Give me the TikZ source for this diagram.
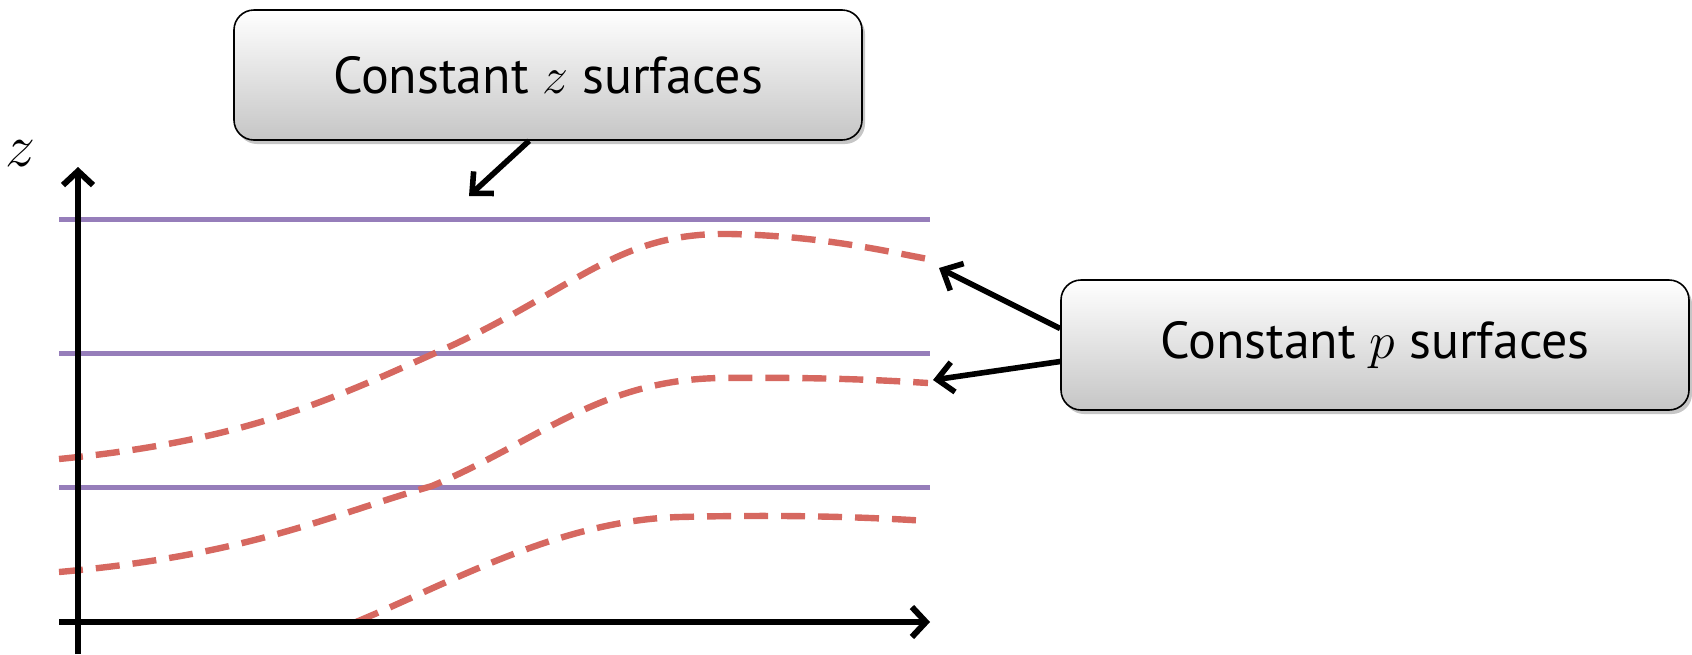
\RequirePackage{fix-cm}
\documentclass[tikz,border=0pt]{standalone}
\usepackage{fontspec}
\setsansfont{PT Sans}
\usetikzlibrary{arrows.meta}
\usetikzlibrary{shadows}

\definecolor{lvlpurple}{RGB}{150,126,186}
\definecolor{presred}{RGB}{214,104,96}

\tikzset{
  level/.style={draw=lvlpurple,line width=2.5pt},
  isobar/.style={draw=presred,line width=3.2pt,dash pattern=on 12pt off 6.5pt},
  axis/.style={line width=3pt,-{Straight Barb[length=7pt,width=15pt,line width=3pt]}},
  pointer/.style={line width=2.8pt,-{Straight Barb[length=8pt,width=15pt,line width=2.8pt]}},
  callout/.style={draw,line width=0.8pt,rounded corners=10pt,top color=white,bottom color=gray!45,
    drop shadow={shadow xshift=1.5pt,shadow yshift=-2pt,opacity=0.45},
    minimum width=314pt,minimum height=65pt,font=\sffamily\fontsize{26}{31}\selectfont}
}

\begin{document}
\begin{tikzpicture}[x=0.5pt,y=-0.5pt]
  \useasboundingbox (0,0) rectangle (1692,654);
  \foreach \y in {219,353,487}
    \draw[level] (59,\y) -- (930,\y);
  \draw[isobar] (59,459) .. controls (250,440) and (330,400) .. (453,345)
    .. controls (580,285) and (620,232) .. (730,234)
    .. controls (820,236) and (880,250) .. (928,259);
  \draw[isobar] (59,572) .. controls (250,555) and (330,515) .. (432,486)
    .. controls (540,440) and (600,380) .. (720,378)
    .. controls (820,377) and (880,380) .. (928,383);
  \draw[isobar] (356,622) .. controls (450,583) and (560,520) .. (680,517)
    .. controls (800,514) and (880,518) .. (928,521);
  \coordinate (ybot) at (78,654);
  \coordinate (ytop) at (78,167);
  \coordinate (xleft) at (59,622);
  \coordinate (xright) at (930,622);
  \path[axis] (ybot) edge (ytop) (xleft) edge (xright);
  \node (zlab) at (20,154) {\fontsize{30}{36}\selectfont$z$};
  \node[callout] (zbox) at (548,75) {Constant $z$ surfaces};
  \node[callout] (pbox) at (1375,345) {Constant $p$ surfaces};
  \coordinate (ztip) at (469,196);
  \coordinate (ptop) at (939,268);
  \coordinate (pmid) at (933,380);
  \path[pointer]
    (zbox.-106) edge (ztip)
    (pbox.177.4) edge (ptop)
    (pbox.-177.1) edge (pmid);
\end{tikzpicture}
\end{document}
